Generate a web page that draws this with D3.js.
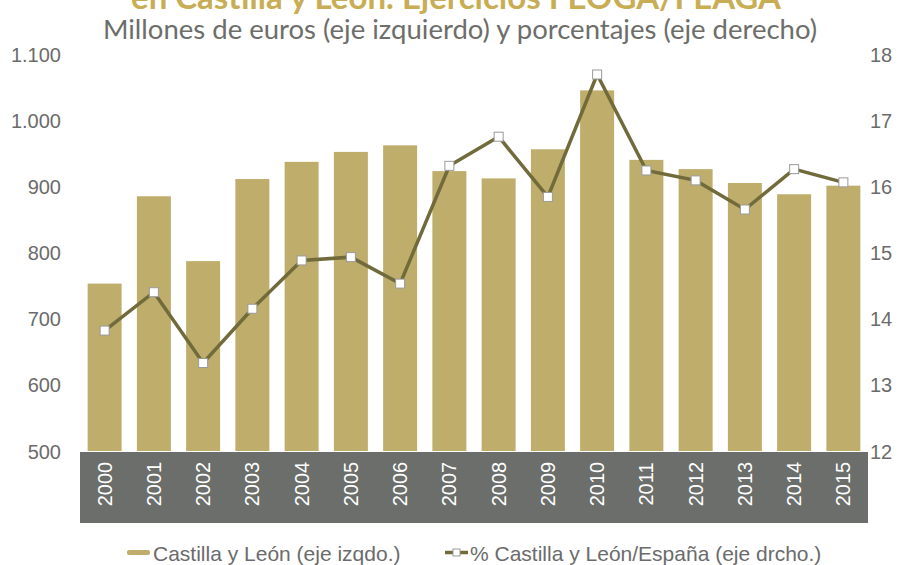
<!DOCTYPE html>
<html>
<head>
<meta charset="utf-8">
<style type="text/css">
body { margin: 0; background: #fff; }
</style>
<script src="https://d3js.org/d3.v7.min.js"></script>
</head>
<body>
<script type="text/javascript">
var width = 911;
var height = 565;

var years = ["2000","2001","2002","2003","2004","2005","2006","2007","2008","2009","2010","2011","2012","2013","2014","2015"];
var importe = [753, 885, 787, 911, 937, 952, 962, 923, 912, 956, 1045, 940, 926, 905, 888, 901];
var porcentaje = [13.82, 14.40, 13.33, 14.15, 14.88, 14.93, 14.53, 16.31, 16.75, 15.84, 17.69, 16.24, 16.09, 15.65, 16.26, 16.06];
var leftTicks = [500, 600, 700, 800, 900, 1000, 1100];
var rightTicks = [12, 13, 14, 15, 16, 17, 18];

var fontArial = "'Liberation Sans', Arial, sans-serif";
var svg = d3.select("body").append("svg").attr("width", width).attr("height", height);

var x = d3.scaleBand().domain(years).range([80, 868]).paddingInner(0.31).paddingOuter(0.155);
var yL = d3.scaleLinear().domain([500, 1100]).range([451, 54]);
var yR = d3.scaleLinear().domain([12, 18]).range([451, 54]);

// titulo (cortado arriba)
svg.append("text").attr("x", 456).attr("y", 9).attr("text-anchor", "middle")
	.style("font-family", "Lato, sans-serif").style("font-weight", "bold")
	.style("font-size", "33px").style("fill", "#c8ad55")
	.text("en Castilla y León. Ejercicios FEOGA/FEAGA");
svg.append("text").attr("x", 460).attr("y", 39).attr("text-anchor", "middle")
	.style("font-family", "Lato, sans-serif").style("font-size", "27.5px").style("fill", "#6d6e6a")
	.text("Millones de euros (eje izquierdo) y porcentajes (eje derecho)");

// ejes
var axL = svg.append("g").attr("transform", "translate(61,0)")
	.call(d3.axisLeft(yL).tickValues(leftTicks).tickSize(0).tickPadding(0)
		.tickFormat(function(d){ return d3.format(",")(d).replace(",", "."); }));
axL.select(".domain").remove();
axL.selectAll("text").attr("dy", "0.35em")
	.style("font-family", fontArial).style("font-size", "20px").style("fill", "#6b6b6b");

var axR = svg.append("g").attr("transform", "translate(870,0)")
	.call(d3.axisRight(yR).tickValues(rightTicks).tickSize(0).tickPadding(0).tickFormat(d3.format("d")));
axR.select(".domain").remove();
axR.selectAll("text").attr("dy", "0.35em")
	.style("font-family", fontArial).style("font-size", "20px").style("fill", "#6b6b6b");

// barras
svg.selectAll(".bar").data(importe).enter().append("rect")
	.attr("class", "bar")
	.attr("x", function(d,i){ return x(years[i]); })
	.attr("width", x.bandwidth())
	.attr("y", function(d){ return yL(d); })
	.attr("height", function(d){ return yL(500) - yL(d); })
	.attr("fill", "#bfad6b");

// banda de años
svg.append("rect").attr("x", 80).attr("y", 452).attr("width", 788).attr("height", 71).attr("fill", "#6b6e6a");
svg.selectAll(".year").data(years).enter().append("text")
	.attr("class", "year")
	.attr("transform", function(d){ return "translate(" + (x(d) + x.bandwidth()/2 + 7) + ",484) rotate(-90)"; })
	.attr("text-anchor", "middle")
	.style("font-family", fontArial).style("font-size", "20px").style("fill", "#fff")
	.text(function(d){ return d; });

// linea
var line = d3.line()
	.x(function(d,i){ return x(years[i]) + x.bandwidth()/2; })
	.y(function(d){ return yR(d); });
svg.append("path").datum(porcentaje).attr("d", line)
	.attr("fill", "none").attr("stroke", "#716b3c").attr("stroke-width", 3.5);
svg.selectAll(".mk").data(porcentaje).enter().append("rect")
	.attr("class", "mk")
	.attr("x", function(d,i){ return x(years[i]) + x.bandwidth()/2 - 4.5; })
	.attr("y", function(d){ return yR(d) - 4.5; })
	.attr("width", 9).attr("height", 9)
	.attr("fill", "#fff").attr("stroke", "#9a9a9a").attr("stroke-width", 1);

// leyenda
svg.append("rect").attr("x", 127).attr("y", 550).attr("width", 23).attr("height", 5).attr("rx", 2)
	.attr("fill", "#bfad6b");
svg.append("text").attr("x", 153).attr("y", 561).text("Castilla y León (eje izqdo.)")
	.style("font-family", fontArial).style("font-size", "21px").style("fill", "#6b6b6b");
svg.append("line").attr("x1", 445).attr("x2", 468).attr("y1", 552.5).attr("y2", 552.5)
	.attr("stroke", "#716b3c").attr("stroke-width", 3.5);
svg.append("rect").attr("x", 453).attr("y", 549).attr("width", 7).attr("height", 7)
	.attr("fill", "#fff").attr("stroke", "#9a9a9a");
svg.append("text").attr("x", 470).attr("y", 561).text("% Castilla y León/España (eje drcho.)")
	.style("font-family", fontArial).style("font-size", "21px").style("fill", "#6b6b6b");
</script>
</body>
</html>
